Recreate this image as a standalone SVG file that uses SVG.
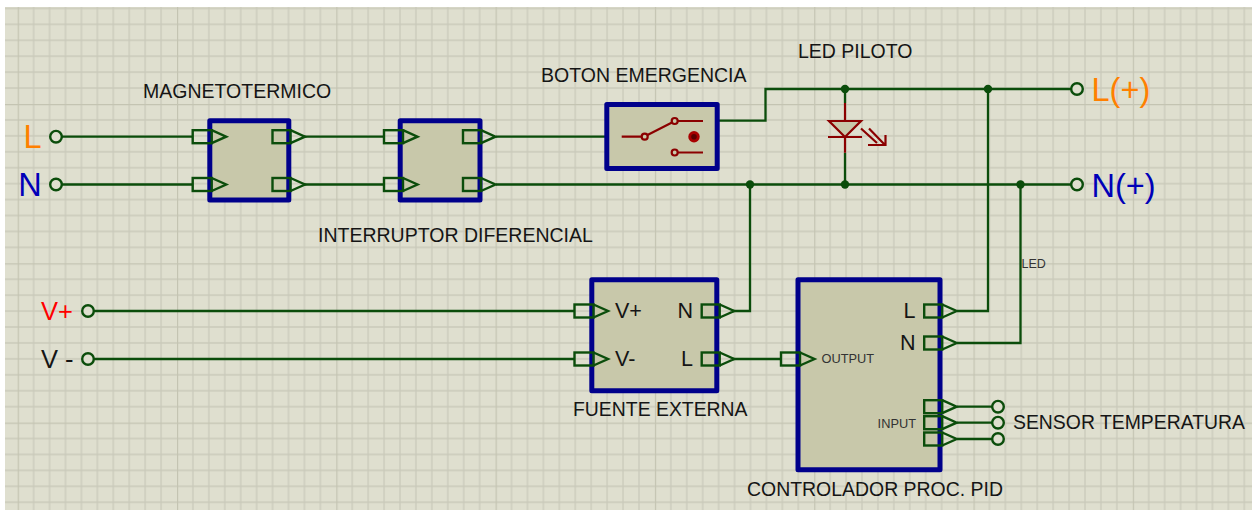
<svg xmlns="http://www.w3.org/2000/svg" width="1252" height="510" viewBox="0 0 1252 510">
<style>
text{font-family:"Liberation Sans",Arial,sans-serif;fill:#151515}
.lb{font-size:19.5px}
.pn{font-size:21.5px}
.sm{font-size:12.8px;fill:#333}
.big{font-size:32.5px}
.mid{font-size:25.5px}
.box{fill:#c8c8aa;stroke:#00008b;stroke-width:5;stroke-linejoin:round}
.w{fill:none;stroke:#0b4d0b;stroke-width:2.3}
.p{fill:none;stroke:#0b4d0b;stroke-width:2.4}
.c{fill:#dfdfcf;stroke:#0b4d0b;stroke-width:2.4}
.j{fill:#0b4d0b}
.r{fill:none;stroke:#8b0000;stroke-width:2.2}
.rc{fill:#c8c8aa;stroke:#8b0000;stroke-width:2.2}
</style>
<defs>
<pattern id="grid" patternUnits="userSpaceOnUse" x="17.7" y="104" width="159.3" height="159.3">
<path d="M15.93 0V159.3M31.86 0V159.3M47.79 0V159.3M63.72 0V159.3M79.65 0V159.3M95.58 0V159.3M111.51 0V159.3M127.44 0V159.3M143.37 0V159.3M0 15.93H159.3M0 31.86H159.3M0 47.79H159.3M0 63.72H159.3M0 79.65H159.3M0 95.58H159.3M0 111.51H159.3M0 127.44H159.3M0 143.37H159.3" stroke="#cacaba" stroke-width="1.3" fill="none"/>
<path d="M0 0V159.3M0 0H159.3" stroke="#c4c4b2" stroke-width="2.4" fill="none"/>
</pattern>
<g id="pin"><rect x="0" y="-6.5" width="18" height="13" class="p"/><path d="M18 -6.5L32.5 0L18 6.5" class="p"/></g>
<g id="pinl"><rect x="0" y="-6.5" width="19" height="13" class="p"/><path d="M19 -6.5L33.5 0L19 6.5" class="p"/></g>
</defs>
<rect x="5" y="7" width="1247" height="503" fill="#dfdfcf"/>
<rect x="5" y="7" width="1247" height="503" fill="url(#grid)"/>

<g id="connectors">
<path class="w" d="M62 136.7H193M62 184.5H193M304 136.7H384M304 184.5H384M496 136.7H606M496 184.5H1071"/>
<path class="w" d="M719 120.7H765.5V89H1071M845 89V103M845 152.7V184.5"/>
<path class="w" d="M750 184.5V311H733M94 311H574.5M94 359H574.5M733 359H781"/>
<path class="w" d="M988 89V311H957M1020.5 184.5V343H957M957 406.7H992M957 422.7H992M957 439H992"/>
<circle class="j" cx="845" cy="89" r="4.2"/>
<circle class="j" cx="845" cy="184.5" r="4.2"/>
<circle class="j" cx="750" cy="184.5" r="4.2"/>
<circle class="j" cx="988" cy="89" r="4.2"/>
<circle class="j" cx="1020.5" cy="184.5" r="4.2"/>
<text x="1021.5" y="267.5" class="sm" style="font-size:12.5px">LED</text>
</g>

<g id="term-L"><circle class="c" cx="56" cy="136.7" r="5.8"/><text x="23.6" y="148.3" class="big" style="fill:#ff8000">L</text></g>
<g id="term-N"><circle class="c" cx="56" cy="184.5" r="5.8"/><text x="18.2" y="196" class="big" style="fill:#0000b8">N</text></g>
<g id="term-Lplus"><circle class="c" cx="1077" cy="89" r="5.8"/><text x="1091.5" y="100.5" class="big" style="fill:#ff8000">L(+)</text></g>
<g id="term-Nplus"><circle class="c" cx="1077" cy="184.5" r="5.8"/><text x="1091.5" y="196.5" class="big" style="fill:#0000b8">N(+)</text></g>
<g id="term-Vp"><circle class="c" cx="88" cy="311" r="5.8"/><text x="41" y="320" class="mid" style="fill:#ff0000">V+</text></g>
<g id="term-Vm"><circle class="c" cx="88" cy="359" r="5.8"/><text x="41" y="368" class="mid">V -</text></g>

<g id="magnetotermico">
<rect class="box" x="209.8" y="120.8" width="79" height="79.2"/>
<use href="#pinl" x="192.7" y="136.7"/><use href="#pinl" x="192.7" y="184.5"/>
<use href="#pin" x="272.5" y="136.7"/><use href="#pin" x="272.5" y="184.5"/>
<text x="143" y="98" class="lb">MAGNETOTERMICO</text>
</g>
<g id="diferencial">
<rect class="box" x="400.2" y="120.8" width="79.8" height="79.2"/>
<use href="#pinl" x="384" y="136.7"/><use href="#pinl" x="384" y="184.5"/>
<use href="#pin" x="463" y="136.7"/><use href="#pin" x="463" y="184.5"/>
<text x="318" y="241.5" class="lb">INTERRUPTOR DIFERENCIAL</text>
</g>
<g id="boton">
<rect class="box" x="606.8" y="104.5" width="110.4" height="64"/>
<path class="r" d="M621.7 136.7H641.5M647.5 135L672 122.5M678 121H703M678 152.5H703"/>
<circle class="rc" cx="644.7" cy="136.7" r="3"/>
<circle class="rc" cx="674.7" cy="121" r="3"/>
<circle class="rc" cx="674.7" cy="152.5" r="3"/>
<circle cx="694" cy="136.7" r="5.7" fill="#a80000"/>
<circle cx="694" cy="136.7" r="2.8" fill="#5a0000"/>
<text x="541" y="82" class="lb">BOTON EMERGENCIA</text>
</g>
<g id="led">
<path class="r" d="M845 103V121M845 137V152.7"/>
<path class="rc" d="M829 121H861L845 137Z"/>
<path class="r" d="M828 137H862M861 128.5L877 143M869 128.5L885 145M868 145H885.5V135"/>
<text x="798" y="58" class="lb">LED PILOTO</text>
</g>
<g id="fuente">
<rect class="box" x="591.8" y="279.8" width="125" height="111"/>
<use href="#pinl" x="574.5" y="311"/><use href="#pinl" x="574.5" y="359"/>
<use href="#pin" x="701.7" y="311"/><use href="#pin" x="701.7" y="359"/>
<text x="615" y="318" class="pn">V+</text>
<text x="615" y="366" class="pn">V-</text>
<text x="693" y="318" class="pn" text-anchor="end">N</text>
<text x="693" y="366" class="pn" text-anchor="end">L</text>
<text x="573" y="416" class="lb" style="font-size:19.4px">FUENTE EXTERNA</text>
</g>
<g id="controlador">
<rect class="box" x="798" y="279.8" width="142" height="190"/>
<use href="#pinl" x="781" y="359"/>
<use href="#pin" x="924.2" y="311"/><use href="#pin" x="924.2" y="343"/>
<use href="#pin" x="924.2" y="406.7"/><use href="#pin" x="924.2" y="422.7"/><use href="#pin" x="924.2" y="439"/>
<circle class="c" cx="998" cy="406.7" r="5.8"/><circle class="c" cx="998" cy="422.7" r="5.8"/><circle class="c" cx="998" cy="439" r="5.8"/>
<text x="915.5" y="318.3" class="pn" text-anchor="end">L</text>
<text x="915.5" y="350.3" class="pn" text-anchor="end">N</text>
<text x="821.5" y="363.3" class="sm">OUTPUT</text>
<text x="916" y="428" class="sm" text-anchor="end">INPUT</text>
<text x="1013" y="429.3" class="lb" style="font-size:19.4px">SENSOR TEMPERATURA</text>
<text x="747" y="496" class="lb" style="font-size:19.45px">CONTROLADOR PROC. PID</text>
</g>
</svg>
